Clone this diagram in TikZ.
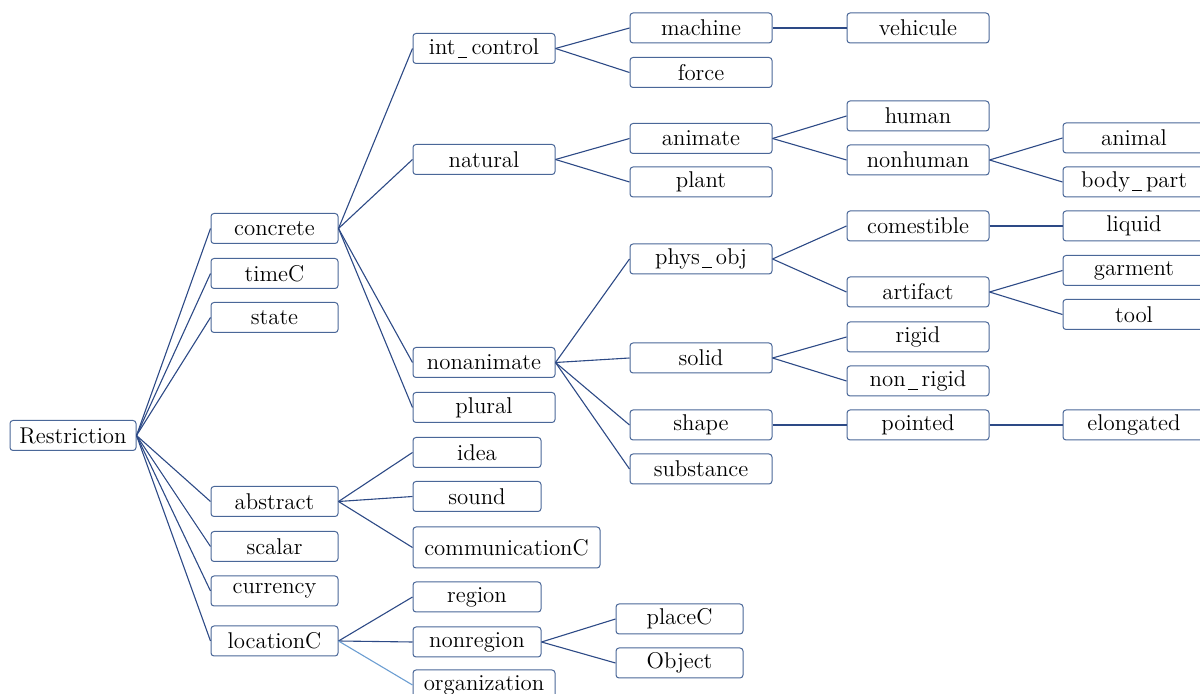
\documentclass[tikz,border=0pt]{standalone}
\definecolor{Edge}{HTML}{2D4A86}
\definecolor{Frame}{HTML}{4A6798}
\definecolor{Faded}{HTML}{6C9ED2}
\usepackage{tikz}
\usetikzlibrary{positioning}
\newcommand{\us}{\kern0.1em\rule[-0.3ex]{0.42em}{0.45pt}\kern0.18em}
\tikzset{
    % small rounded boxes, blue frame
    catbox/.style={
        rectangle,
        rounded corners=1.5pt,
        draw=Frame,
        fill=white,
        line width=0.5pt,
        minimum width=71pt,
        minimum height=15pt,
        inner sep=1pt,
        align=center,
        font=\fontsize{11.4}{13}\selectfont
    },
    link/.style={
        draw=Edge,
        line width=0.55pt
    },
    fadedlink/.style={
        draw=Faded,
        line width=0.55pt
    }
}
\begin{document}
\begin{tikzpicture}[x=0.5pt,y=-0.5pt]
    \useasboundingbox (0,0) rectangle (1200,694);
    \clip (0,0) rectangle (1200,694);
    \node[catbox, minimum width=63pt] (restriction) at (73,435.5) {Restriction};

    \node[catbox, minimum width=63.5pt] (concrete) at (274.5,228.5) {concrete};
    \node[catbox, minimum width=63.5pt] (timeC) at (274.5,273.5) {timeC};
    \node[catbox, minimum width=63.5pt] (state) at (274.5,317.5) {state};
    \node[catbox, minimum width=63.5pt] (abstract) at (274.5,501.5) {abstract};
    \node[catbox, minimum width=63.5pt] (scalar) at (274.5,546.5) {scalar};
    \node[catbox, minimum width=63.5pt] (currency) at (274.5,591) {currency};
    \node[catbox, minimum width=63.5pt] (locationC) at (274.5,641) {locationC};

    \node[catbox] (intcontrol) at (484,48.5) {int\us control};
    \node[catbox] (natural) at (484,159.5) {natural};
    \node[catbox] (nonanimate) at (484,362.5) {nonanimate};
    \node[catbox] (plural) at (484,407.5) {plural};
    \node[catbox, minimum width=64pt] (idea) at (477,452.5) {idea};
    \node[catbox, minimum width=64pt] (sound) at (477,496.5) {sound};
    \node[catbox, minimum width=93.5pt, minimum height=20.5pt] (communicationC) at (506.5,547.5) {communicationC};
    \node[catbox, minimum width=64pt] (region) at (477,597) {region};
    \node[catbox, minimum width=64pt] (nonregion) at (477,642) {nonregion};
    \node[catbox] (organization) at (484,685) {organization};

    \node[catbox] (machine) at (701,28) {machine};
    \node[catbox] (force) at (701,72.5) {force};
    \node[catbox] (animate) at (701,138.5) {animate};
    \node[catbox] (plant) at (701,182) {plant};
    \node[catbox] (physobj) at (701,259) {phys\us obj};
    \node[catbox] (solid) at (701,358) {solid};
    \node[catbox] (shape) at (701,425) {shape};
    \node[catbox] (substance) at (701,469) {substance};
    \node[catbox, minimum width=63.5pt] (placeC) at (679.5,619) {placeC};
    \node[catbox, minimum width=63.5pt] (object) at (679.5,663) {Object};

    \node[catbox] (vehicule) at (918,28) {vehicule};
    \node[catbox] (human) at (918,116) {human};
    \node[catbox] (nonhuman) at (918,160) {nonhuman};
    \node[catbox] (comestible) at (918,226) {comestible};
    \node[catbox] (artifact) at (918,292) {artifact};
    \node[catbox] (rigid) at (918,337) {rigid};
    \node[catbox] (nonrigid) at (918,381) {non\us rigid};
    \node[catbox] (pointed) at (918,425) {pointed};

    \node[catbox] (animal) at (1134,138) {animal};
    \node[catbox] (bodypart) at (1134,182) {body\us part};
    \node[catbox] (liquid) at (1134,226) {liquid};
    \node[catbox] (garment) at (1134,270.5) {garment};
    \node[catbox] (tool) at (1134,314.5) {tool};
    \node[catbox] (elongated) at (1134,425) {elongated};

    % tree edges
    \foreach \from/\to in {restriction/concrete, restriction/timeC, restriction/state,
        restriction/abstract, restriction/scalar, restriction/currency, restriction/locationC,
        concrete/intcontrol, concrete/natural, concrete/nonanimate, concrete/plural,
        abstract/idea, abstract/sound, abstract/communicationC,
        locationC/region, locationC/nonregion,
        intcontrol/machine, intcontrol/force, natural/animate, natural/plant,
        nonanimate/physobj, nonanimate/solid, nonanimate/shape, nonanimate/substance,
        nonregion/placeC, nonregion/object,
        machine/vehicule, animate/human, animate/nonhuman,
        physobj/comestible, physobj/artifact, solid/rigid, solid/nonrigid, shape/pointed,
        nonhuman/animal, nonhuman/bodypart, comestible/liquid,
        artifact/garment, artifact/tool, pointed/elongated}
        \draw[link] (\from.east) -- (\to.west);
    \draw[fadedlink] (locationC.east) -- (organization.west);
\end{tikzpicture}
\end{document}
